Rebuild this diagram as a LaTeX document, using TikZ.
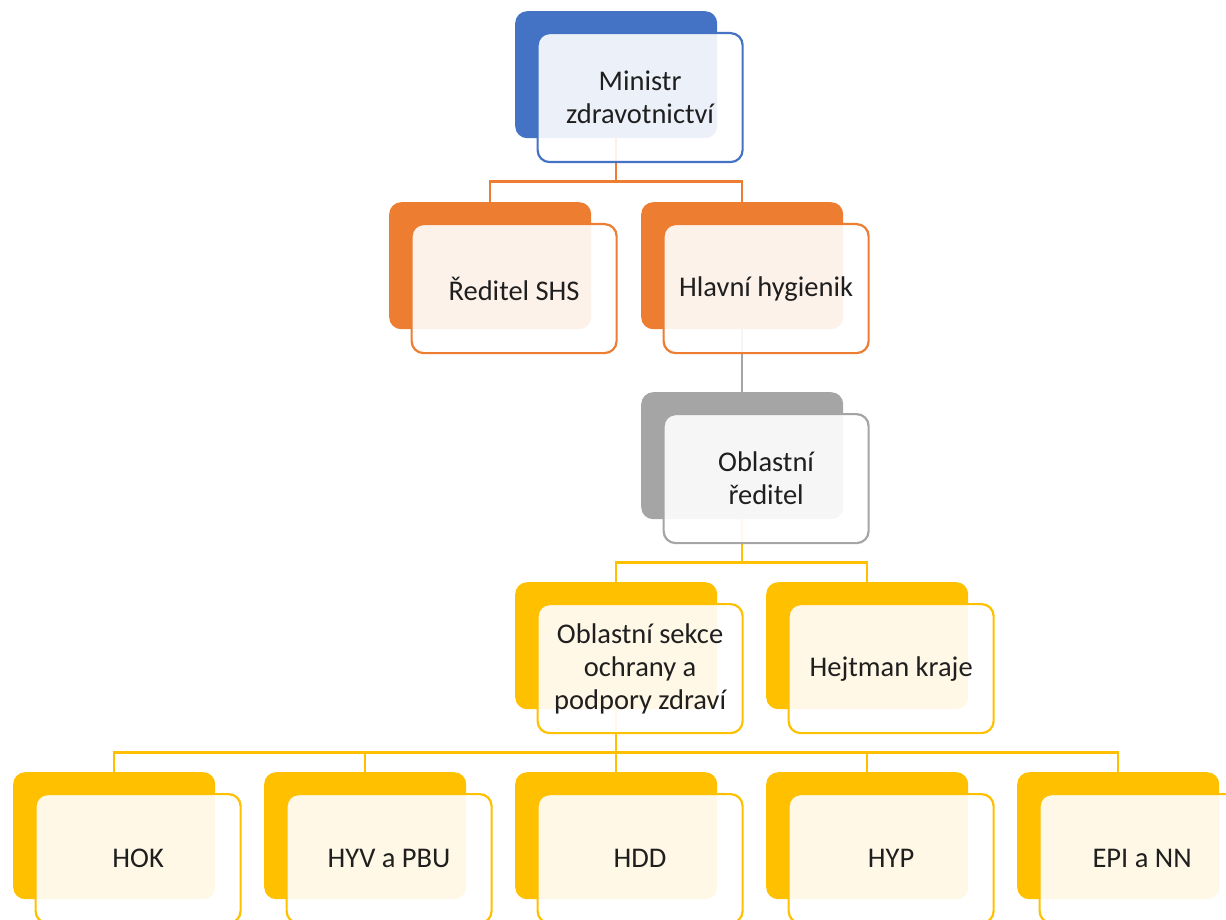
\documentclass[tikz,border=0pt]{standalone}
\usepackage{fontspec}
\setmainfont{Carlito}
\definecolor{cblue}{HTML}{4472C4}
\definecolor{corange}{HTML}{ED7D31}
\definecolor{cgray}{HTML}{A5A5A5}
\definecolor{cyellow}{HTML}{FFC000}
\pgfdeclarelayer{bg}
\pgfsetlayers{bg,main}
\begin{document}
\begin{tikzpicture}[x=1pt,y=-1pt,
  backbox/.style={rectangle, rounded corners=12pt, fill=#1, minimum width=202pt,
    minimum height=127pt, inner sep=0pt, anchor=north west},
  frontbox/.style={rectangle, rounded corners=12pt, draw=#1, line width=2.2pt,
    fill=white, fill opacity=0.9, text opacity=1, draw opacity=1,
    minimum width=205pt, minimum height=129pt, inner sep=0pt, anchor=north west,
    text width=198pt, align=flush center, font=\fontsize{28.5}{33}\selectfont, text=black!88},
  conn/.style={draw=#1, line width=2.4pt}]
\useasboundingbox (0,0) rectangle (1226,920);
\clip (0,0) rectangle (1226,920);
% row 1
\node[backbox=cblue] (mb) at (515,11) {};
\node[frontbox=cblue] (m) at (536.5,32) {Ministr\\zdravotnictví};
% row 2
\node[backbox=corange] (rb) at (389,202) {};
\node[frontbox=corange] (r) at (410.5,223) {Ředitel SHS};
\node[backbox=corange] (hb) at (641,202) {};
\node[frontbox=corange] (h) at (662.5,223) {Hlavní hygienik};
% row 3
\node[backbox=cgray] (ob) at (641,392) {};
\node[frontbox=cgray] (o) at (662.5,413) {Oblastní\\ředitel};
% row 4
\node[backbox=cyellow] (sb) at (515,582) {};
\node[frontbox=cyellow] (s) at (536.5,603) {Oblastní sekce\\ochrany a\\podpory zdraví};
\node[backbox=cyellow] (kb) at (766,582) {};
\node[frontbox=cyellow] (k) at (787.5,603) {Hejtman kraje};
% row 5
\node[backbox=cyellow] (p1b) at (13,772) {};
\node[frontbox=cyellow] (p1) at (34.5,793) {HOK};
\node[backbox=cyellow] (p2b) at (264,772) {};
\node[frontbox=cyellow] (p2) at (285.5,793) {HYV a PBU};
\node[backbox=cyellow] (p3b) at (515,772) {};
\node[frontbox=cyellow] (p3) at (536.5,793) {HDD};
\node[backbox=cyellow] (p4b) at (766,772) {};
\node[frontbox=cyellow] (p4) at (787.5,793) {HYP};
\node[backbox=cyellow] (p5b) at (1017,772) {};
\node[frontbox=cyellow] (p5) at (1038.5,793) {EPI a NN};
% connectors
\begin{pgfonlayer}{bg}
\draw[conn=corange] (mb.south) -- ++(0,43) -| (rb.north);
\draw[conn=corange] (mb.south) ++(0,43) -| (hb.north);
\draw[conn=cgray] (hb.south) -- (ob.north);
\draw[conn=cyellow] (ob.south) -- ++(0,43) -| (sb.north);
\draw[conn=cyellow] (ob.south) ++(0,43) -| (kb.north);
\draw[conn=cyellow] (sb.south) -- ++(0,43) -| (p1b.north);
\foreach \n in {p2b,p3b,p4b,p5b}
  \draw[conn=cyellow] (sb.south) ++(0,43) -| (\n.north);
\end{pgfonlayer}
\end{tikzpicture}
\end{document}
